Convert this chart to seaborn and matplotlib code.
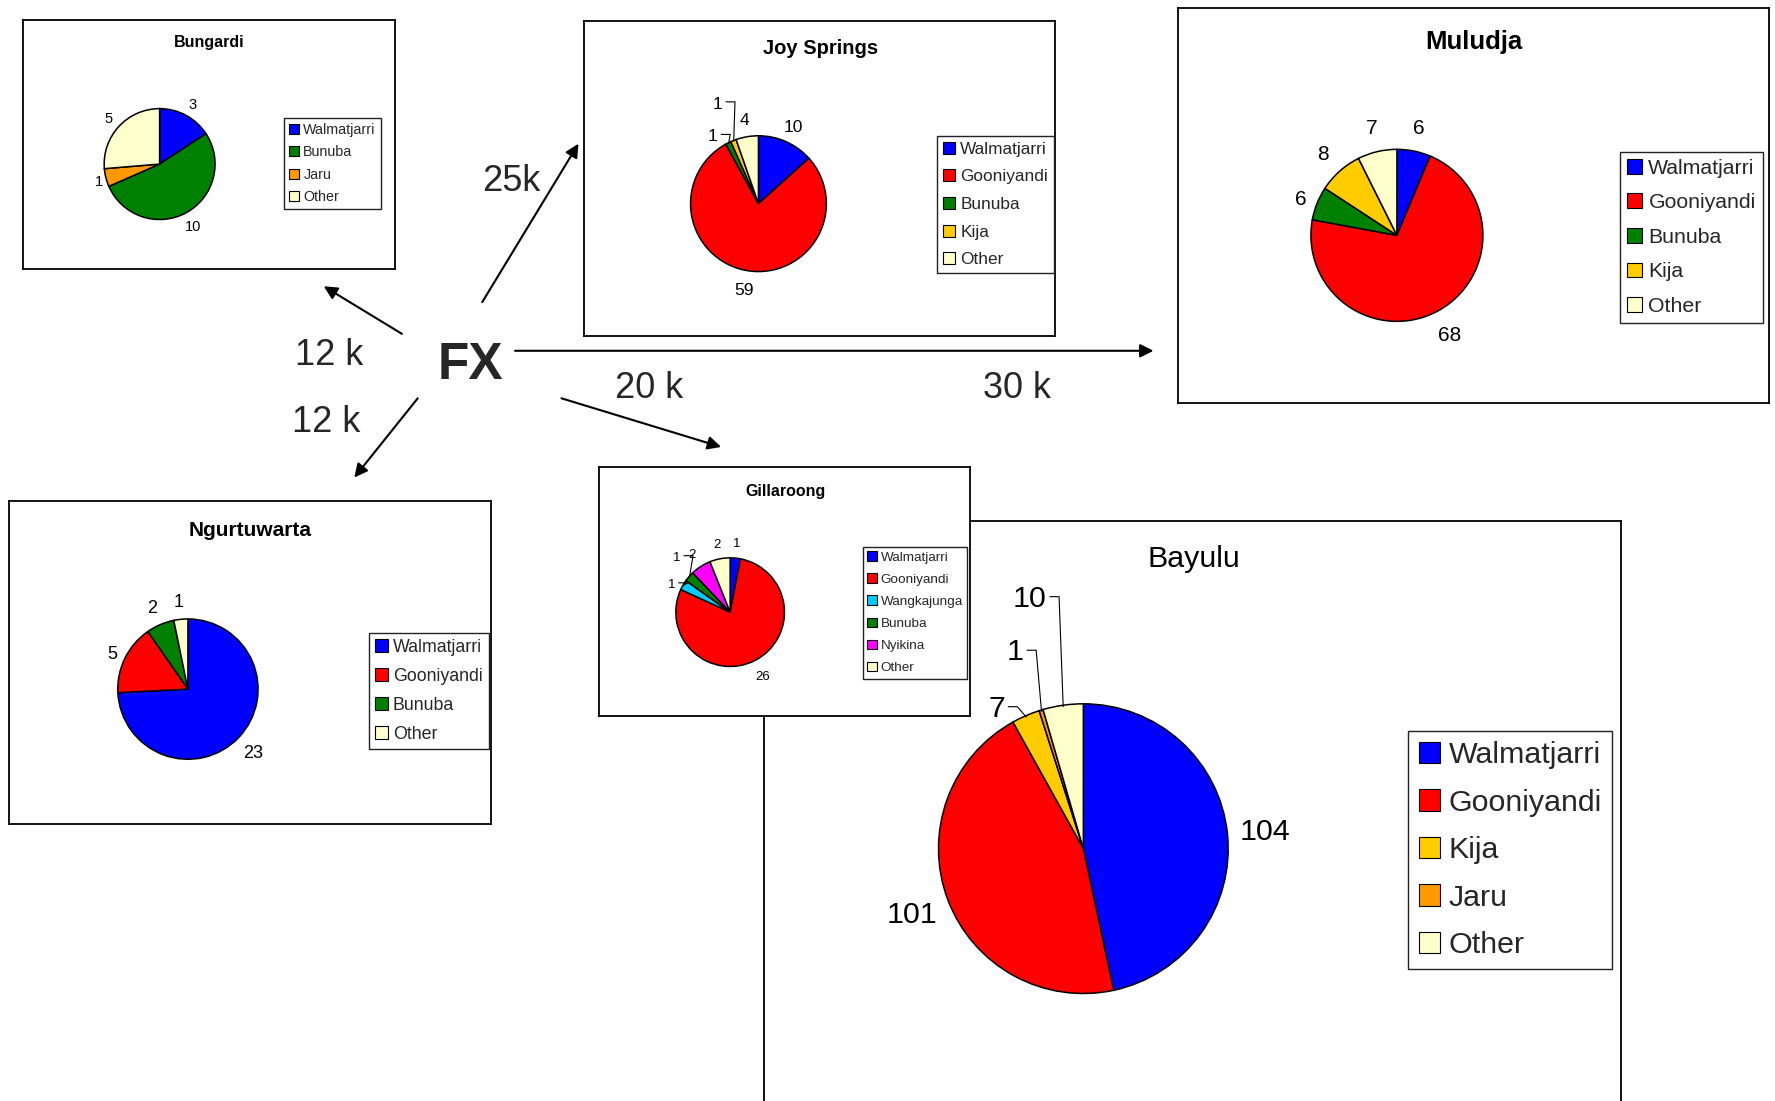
import matplotlib
matplotlib.use("Agg")
import matplotlib.pyplot as plt
from matplotlib.patches import FancyArrowPatch, Patch
from matplotlib.lines import Line2D
from matplotlib import font_manager
import numpy as np
import seaborn as sns

# ---------------- data ----------------
hub = "FX"
panels = ["Bungardi", "Joy Springs", "Muludja", "Ngurtuwarta", "Gillaroong", "Bayulu"]

bungardi_langs = ["Walmatjarri", "Bunuba", "Jaru", "Other"]
bungardi_counts = [3, 10, 1, 5]

joy_langs = ["Walmatjarri", "Gooniyandi", "Bunuba", "Kija", "Other"]
joy_counts = [10, 59, 1, 1, 4]

muludja_langs = ["Walmatjarri", "Gooniyandi", "Bunuba", "Kija", "Other"]
muludja_counts = [6, 68, 6, 8, 7]

ngurt_langs = ["Walmatjarri", "Gooniyandi", "Bunuba", "Other"]
ngurt_counts = [23, 5, 2, 1]

gill_langs = ["Walmatjarri", "Gooniyandi", "Wangkajunga", "Bunuba", "Nyikina", "Other"]
gill_counts = [1, 26, 1, 1, 2, 2]

bayulu_langs = ["Walmatjarri", "Gooniyandi", "Kija", "Jaru", "Other"]
bayulu_counts = [104, 101, 7, 1, 10]

distance_labels = ["12 k", "25k", "20 k", "30 k", "12 k"]

# ---------------- style ----------------
lang_colors = {
    "Walmatjarri": "#0000FF", "Gooniyandi": "#FF0000", "Bunuba": "#008000",
    "Kija": "#FFCC00", "Jaru": "#FF9900", "Other": "#FFFFCC",
    "Wangkajunga": "#00CCFF", "Nyikina": "#FF00FF",
}

sns.set_theme(style="white")
plt.rcParams['font.family'] = ['Liberation Sans', 'DejaVu Sans']

available = {f.name for f in font_manager.fontManager.ttflist}
if 'Liberation Sans Narrow' in available:
    NARROW = ['Liberation Sans Narrow', 'Liberation Sans']
    nscale = 1.0
else:
    NARROW = ['Liberation Sans', 'DejaVu Sans']
    nscale = 0.84
REG = ['Liberation Sans', 'DejaVu Sans']

W, H = 1568.0, 973.0
def fx(x): return x / W
def fy(y): return 1 - y / H

data = {
    "Bungardi": (bungardi_langs, bungardi_counts),
    "Joy Springs": (joy_langs, joy_counts),
    "Muludja": (muludja_langs, muludja_counts),
    "Ngurtuwarta": (ngurt_langs, ngurt_counts),
    "Gillaroong": (gill_langs, gill_counts),
    "Bayulu": (bayulu_langs, bayulu_counts),
}

layout = {
    "Bungardi": dict(box=(20, 18, 349, 238), title=(185, 38), tsize=11.5, tw='bold',
                     c=(141, 145), r=49, lsize=10.5, leg=(251, 104), legsize=10.3, ls=0.6,
                     dist=1.25, fam=REG, leaders={}, ldist={2: 1.13}),
    "Joy Springs": dict(box=(516, 19, 932, 297), title=(725, 43), tsize=14.5, tw='bold',
                        c=(670, 180), r=60, lsize=12.5, leg=(828, 120), legsize=12.4, ls=0.73,
                        dist=1.27, fam=REG, leaders={2: (-0.67, 1.02), 3: (-0.6, 1.5)}, ldist={}),
    "Muludja": dict(box=(1041, 7, 1563, 356), title=(1302, 37), tsize=18.5, tw='bold',
                    c=(1234, 208), r=76, lsize=15, leg=(1431, 134), legsize=15.3, ls=0.73,
                    dist=1.3, fam=REG, leaders={}, ldist={2: 1.2}),
    "Ngurtuwarta": dict(box=(8, 443, 434, 728), title=(221, 469), tsize=15, tw='bold',
                        c=(166, 609), r=62, lsize=13, leg=(326, 559), legsize=12.8, ls=0.68,
                        dist=1.28, fam=REG, leaders={}, ldist={1: 1.2}),
    "Bayulu": dict(box=(675, 460, 1432, 1010), title=(1055, 494), tsize=26 * nscale, tw='normal',
                   c=(957, 750), r=128, lsize=26 * nscale, leg=(1244, 646), legsize=26 * nscale, ls=0.64,
                   dist=1.26, fam=NARROW, leaders={2: (-0.6, 0.98), 3: (-0.47, 1.37), 4: (-0.37, 1.74)},
                   ldist={}),
    "Gillaroong": dict(box=(529, 413, 857, 633), title=(694, 434), tsize=11.5, tw='bold',
                       c=(645, 541), r=48, lsize=9.5, leg=(762, 483), legsize=9.7, ls=0.72,
                       dist=1.3, fam=REG, leaders={2: (-1.08, 0.54), 3: (-0.98, 1.04)}, ldist={}),
}

fig = plt.figure(figsize=(17.75, 11.01), dpi=100)
fig.patch.set_facecolor('white')

draw_order = ["Bungardi", "Joy Springs", "Muludja", "Ngurtuwarta", "Bayulu", "Gillaroong"]
for name in draw_order:
    L = layout[name]
    langs, counts = data[name]
    x0, y0, x1, y1 = L['box']
    pax = fig.add_axes([fx(x0), fy(y1), (x1 - x0) / W, (y1 - y0) / H])
    pax.set_facecolor('white')
    pax.set_xticks([]); pax.set_yticks([])
    for s in pax.spines.values():
        s.set_color('black'); s.set_linewidth(1.3); s.set_visible(True)
    fig.text(fx(L['title'][0]), fy(L['title'][1]), name, ha='center', va='center',
             fontsize=L['tsize'], fontweight=L['tw'], family=L['fam'], color='black')

    handles = [Patch(facecolor=lang_colors[l], edgecolor='black', linewidth=0.8) for l in langs]
    leg = pax.legend(handles, langs, loc='upper left',
                     bbox_to_anchor=(fx(L['leg'][0]), fy(L['leg'][1])),
                     bbox_transform=fig.transFigure, borderaxespad=0, frameon=True,
                     fancybox=False, edgecolor='#222222', framealpha=1,
                     handlelength=0.7, handleheight=0.7, handletextpad=0.3,
                     labelspacing=L['ls'], borderpad=0.34,
                     prop={'family': L['fam'], 'size': L['legsize']})
    leg.get_frame().set_linewidth(1.0)

    cx, cy = L['c']; r = L['r']
    ax = fig.add_axes([fx(cx - r), fy(cy + r), 2 * r / W, 2 * r / H])
    wedges, _ = ax.pie(counts, colors=[lang_colors[l] for l in langs], startangle=90,
                       counterclock=False,
                       wedgeprops=dict(edgecolor='black', linewidth=1.1))
    ax.set_xlim(-1, 1); ax.set_ylim(-1, 1); ax.set_aspect('equal'); ax.axis('off')
    for w in wedges:
        w.set_clip_on(False)
    char_w = 0.556
    dy = 2.0 / r
    for i, (w, v) in enumerate(zip(wedges, counts)):
        mid = np.deg2rad((w.theta1 + w.theta2) / 2)
        ex, ey = np.cos(mid), np.sin(mid)
        if i in L['leaders']:
            lx, ly = L['leaders'][i]
            txt_px = len(str(v)) * char_w * L['lsize'] / 0.72 / 1.132
            hw = txt_px / 2 / r + 3 / r
            seg = 8 / r
            ax.add_line(Line2D([lx + hw, lx + hw + seg, ex * 0.99], [ly, ly, ey * 0.99],
                               color='black', lw=0.8, clip_on=False))
        else:
            d = L['ldist'].get(i, L['dist'])
            lx, ly = ex * d, ey * d
        ax.text(lx, ly - dy, str(v), ha='center', va='center', fontsize=L['lsize'],
                family=L['fam'], clip_on=False, color='black')

# hub text and arrows
fig.text(fx(416), fy(323), hub, ha='center', va='center', fontsize=37, fontweight='bold')

arrows = [((355, 295), (286, 253)), ((426, 267), (511, 127)), ((455, 310), (1019, 310)),
          ((496, 352), (637, 395)), ((369, 352), (313, 422))]
for (a, b) in arrows:
    fig.add_artist(FancyArrowPatch((fx(a[0]), fy(a[1])), (fx(b[0]), fy(b[1])),
                                   transform=fig.transFigure, arrowstyle='-|>',
                                   mutation_scale=20, lw=1.5, color='black',
                                   shrinkA=0, shrinkB=0, zorder=5))

label_pos = [(291, 314), (452, 160), (573, 343), (898, 343), (288, 373)]
for txt, (x, y) in zip(distance_labels, label_pos):
    fig.text(fx(x), fy(y), txt, ha='center', va='center', fontsize=26)

fig.savefig("out.png", dpi=100, facecolor='white')
